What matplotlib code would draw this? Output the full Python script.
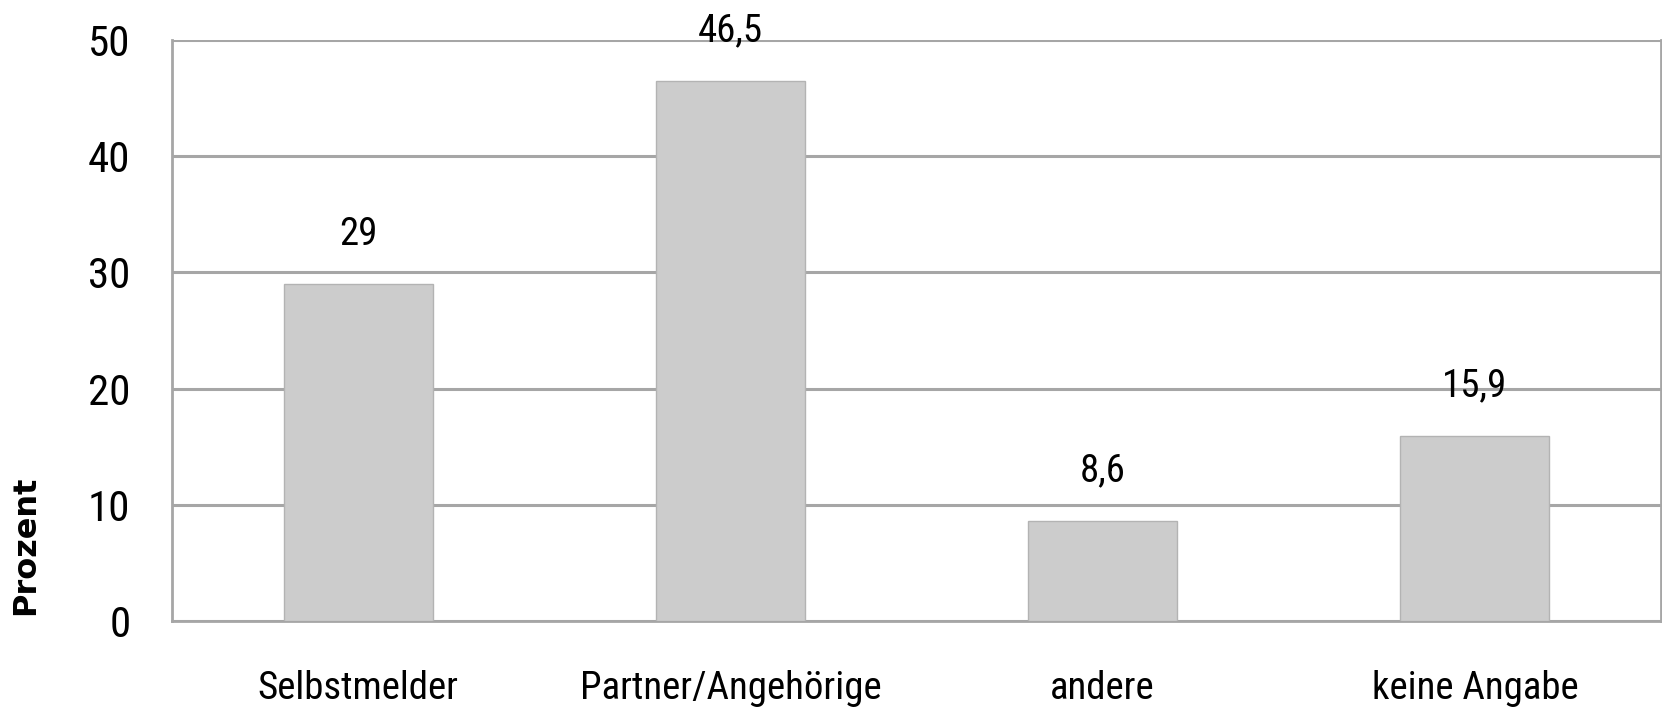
import matplotlib
matplotlib.use("Agg")
import matplotlib.pyplot as plt
from matplotlib import font_manager

categories = ["Selbstmelder", "Partner/Angehörige", "andere", "keine Angabe"]
values = [29, 46.5, 8.6, 15.9]
value_labels = ["29", "46,5", "8,6", "15,9"]
yticks = [0, 10, 20, 30, 40, 50]
ylabel = "Prozent"

# pick a narrow font if any is installed
fonts = font_manager.fontManager.ttflist
narrow_file = None
for pref in ["Liberation Sans Narrow", "Roboto Condensed", "Open Sans Condensed", "Noto Sans Condensed"]:
    for f in fonts:
        if f.name == pref and f.weight in (400, "normal", "regular") and f.style == "normal":
            narrow_file = f.fname
            break
    if narrow_file:
        break
if narrow_file is None:
    for f in fonts:
        if (("Condensed" in f.name or "Narrow" in f.name or
             "ondensed" in str(f.stretch) or "Condensed" in f.fname or "Narrow" in f.fname)
                and f.style == "normal" and "Bold" not in f.fname and "Light" not in f.fname):
            narrow_file = f.fname
            break
if narrow_file:
    fp_kw = dict(fname=narrow_file)
else:
    fp_kw = dict(family="Roboto")

def fp(size):
    return font_manager.FontProperties(size=size, **fp_kw)

fig = plt.figure(figsize=(16.62, 7.17), dpi=100)
ax = fig.add_axes([172/1662, 1-621/717, (1661-172)/1662, (621-40)/717])

grid_c = "#a6a6a6"
x = range(len(categories))
ax.bar(x, values, width=0.4, color="#cccccc", edgecolor="#b3b3b3", linewidth=1, zorder=3)
ax.set_xlim(-0.5, len(categories) - 0.5)
ax.set_ylim(0, 50)
ax.set_yticks(yticks)
ax.set_yticklabels([str(t) for t in yticks], fontproperties=fp(31))
ax.set_xticks(list(x))
ax.set_xticklabels(categories, fontproperties=fp(28))
ax.tick_params(axis="both", length=0)
ax.tick_params(axis="y", pad=30)
ax.tick_params(axis="x", pad=35)
ax.yaxis.grid(True, color=grid_c, linewidth=2.2, zorder=0)
ax.set_axisbelow(True)
for s in ["left", "right", "bottom"]:
    ax.spines[s].set_color(grid_c)
    ax.spines[s].set_linewidth(2)
ax.spines["top"].set_visible(False)

for xi, v, lab in zip(x, values, value_labels):
    ax.annotate(lab, (xi, v), xytext=(0, 36), textcoords="offset points",
                ha="center", va="center", fontproperties=fp(28), zorder=5)

fig.text(26/1662, 1-545/717, ylabel, rotation=90, ha="center", va="center",
         family="DejaVu Sans", fontweight="bold", fontsize=23)

fig.savefig("out.png", dpi=100)
